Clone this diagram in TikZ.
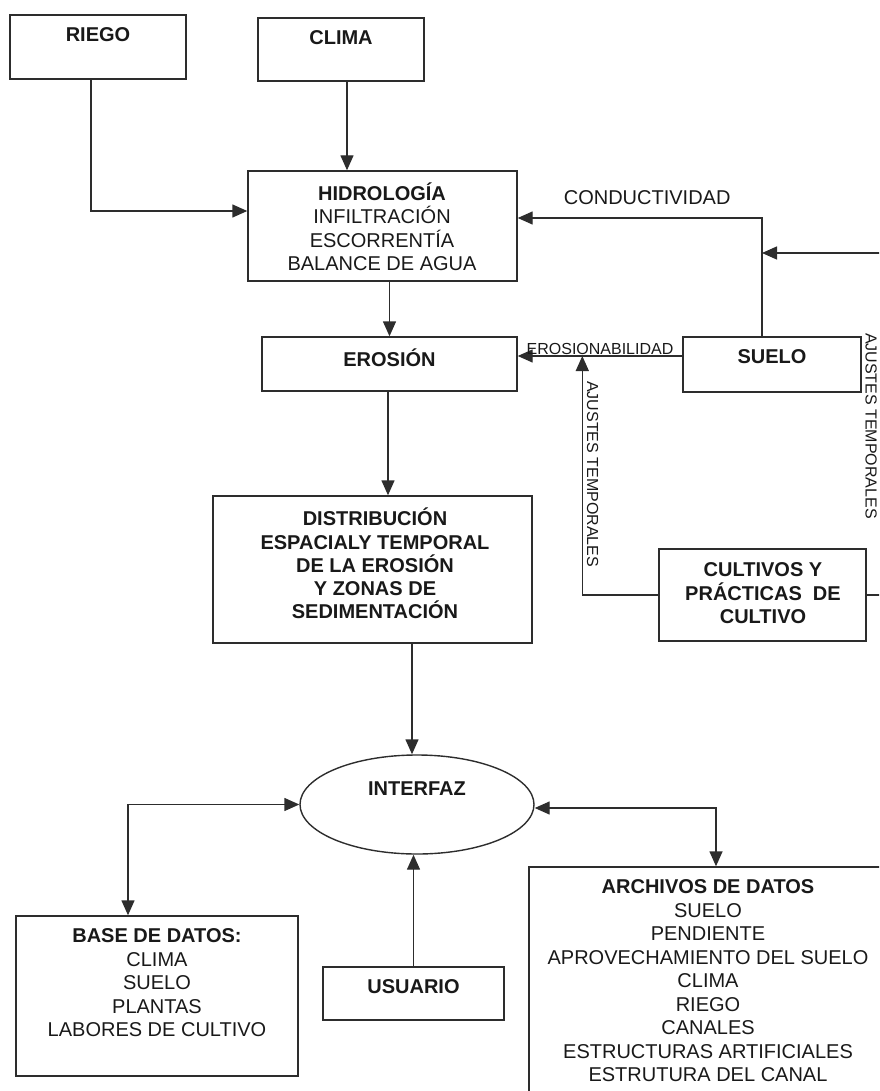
\documentclass[tikz,border=0pt]{standalone}
\usepackage{fontspec}
\setmainfont{Liberation Sans}
\usepackage{xcolor}
\definecolor{lineagris}{RGB}{45, 45, 45}
\definecolor{textogris}{RGB}{25, 25, 25}
\usetikzlibrary{arrows.meta, shapes.geometric, positioning}

\begin{document}
\begin{tikzpicture}[x=1pt, y=-1pt, >={Triangle[length=15pt, width=13pt]}]

% === Estilos ===
\tikzset{
    caja/.style 2 args={draw=lineagris, line width=1.4pt, minimum width=#1,
        minimum height=#2, inner sep=0pt},
    texto/.style={font=\fontsize{20}{23.5}\selectfont, align=center,
        inner sep=0pt, text=textogris},
    titulo/.style={texto, font=\bfseries\fontsize{20}{23.5}\selectfont},
    rotulo/.style={font=\fontsize{16}{18}\selectfont, inner sep=0pt, text=textogris},
    flecha/.style={draw=lineagris, line width=1.4pt, ->}
}

% === Marco ===
\useasboundingbox (0,0) rectangle (879,1091);
\clip (0,0) rectangle (879,1091);

% === Cajas ===
\node[caja={176pt}{64pt}]  (riego)     at (98,47)      {};
\node[caja={166pt}{63pt}]  (clima)     at (341,49.5)   {};
\node[caja={269pt}{110pt}] (hidro)     at (382.5,226)  {};
\node[caja={255pt}{54pt}]  (erosion)   at (389.5,364)  {};
\node[caja={178pt}{55pt}]  (suelo)     at (772,364.5)  {};
\node[caja={319pt}{147pt}] (distrib)   at (372.5,569.5) {};
\node[caja={207pt}{92pt}]  (cultivos)  at (762.5,595)  {};
\node[draw=lineagris, line width=1.4pt, ellipse, minimum width=234pt,
      minimum height=99pt, inner sep=0pt] (interfaz) at (417,804.5) {};
\node[caja={282pt}{160pt}] (basedatos) at (157,996)    {};
\node[caja={181pt}{53pt}]  (usuario)   at (413.5,993.5) {};
\node[caja={366pt}{243pt}] (archivos)  at (712,988.5)  {};

% === Textos ===
\node[titulo] (riegoT)   at ([yshift=12pt]riego.center)    {RIEGO};
\node[titulo] (climaT)   at ([yshift=11.5pt]clima.center)  {CLIMA};
\node[texto]  (hidroT)   at (382,226.5)
    {\textbf{HIDROLOGÍA}\\INFILTRACIÓN\\ESCORRENTÍA\\BALANCE DE AGUA};
\node[titulo] (erosionT) at ([yshift=6pt]erosion.center)   {EROSIÓN};
\node[titulo] (sueloT)   at ([yshift=7.5pt]suelo.center)   {SUELO};
\node[titulo, font=\bfseries\fontsize{20}{23.25}\selectfont] (distribT) at (375,563.5)
    {DISTRIBUCIÓN\\ESPACIALY TEMPORAL\\DE LA EROSIÓN\\Y ZONAS DE\\SEDIMENTACIÓN};
\node[titulo] (cultivosT) at (763,593.5)
    {CULTIVOS Y\\PRÁCTICAS\ \ DE\\CULTIVO};
\node[titulo] (interfazT) at ([yshift=15.5pt]interfaz.center) {INTERFAZ};
\node[texto]  (baseT)    at (157,983)
    {\textbf{BASE DE DATOS:}\\CLIMA\\SUELO\\PLANTAS\\LABORES DE CULTIVO};
\node[titulo] (usuarioT) at ([yshift=6.5pt]usuario.center) {USUARIO};
\node[texto]  (archivosT) at (708,981)
    {\textbf{ARCHIVOS DE DATOS}\\SUELO\\PENDIENTE\\APROVECHAMIENTO DEL SUELO\\CLIMA\\RIEGO\\CANALES\\ESTRUCTURAS ARTIFICIALES\\ESTRUTURA DEL CANAL};

% === Puntos auxiliares ===
\coordinate (climaS)  at ([xshift=6pt]clima.south);
\coordinate (eroS)    at ([xshift=-1.5pt]erosion.south);
\coordinate (intN)    at ([xshift=-5pt]interfaz.north);
\coordinate (sueloN)  at ([xshift=-10pt]suelo.north);
\coordinate (sueloW)  at ([yshift=8.5pt]suelo.west);
\coordinate (ajusteX) at ([xshift=-76pt]cultivos.west);
\coordinate (retornoA) at (895,595);   % fuera del borde derecho
\coordinate (retornoB) at (895,253);
\coordinate (baseN)   at ([xshift=-29pt]basedatos.north);
\coordinate (archN)   at ([xshift=4pt]archivos.north);

% === Flechas superiores ===
\draw[flecha] ([xshift=-7pt]riego.south) |- ([yshift=15pt]hidro.west);
\draw[flecha] (climaS) -- (climaS |- hidro.north);
\draw[flecha] (erosion.north |- hidro.south) -- (erosion.north);
\draw[flecha] (eroS) -- (eroS |- distrib.north);
\draw[flecha] (intN |- distrib.south) -- (intN);

% Conductividad (suelo -> hidrología)
\draw[flecha] (sueloN) |- ([yshift=8pt]hidro.east)
    node[texto, pos=0.735, above=13pt] (conduct) {CONDUCTIVIDAD};

% Retorno por el borde derecho (cultivos -> suelo)
\draw[flecha] (cultivos.east) -- (retornoA) -- (retornoB) -- (retornoB -| sueloN);
\node[rotulo, rotate=-90] (ajusteD) at (871,426) {AJUSTES TEMPORALES};

% Erosionabilidad (suelo -> erosión)
\draw[flecha] (sueloW) -- (sueloW -| erosion.east)
    node[rotulo, midway, above=1pt] (erosiona) {EROSIONABILIDAD};

% Ajustes temporales (cultivos -> erosionabilidad)
\draw[flecha] (cultivos.west) -| (ajusteX |- sueloW)
    node[rotulo, pos=0.753, rotate=-90, anchor=south, inner ysep=4pt] (ajusteI)
    {AJUSTES TEMPORALES};

% === Flechas inferiores ===
\draw[flecha, <->] (interfaz.west) -| (baseN);
\draw[flecha, <->] ([yshift=-3.5pt]interfaz.east) -| (archN);
\draw[flecha] (usuario.north) -- (usuario.north |- interfaz.south);

\end{tikzpicture}
\end{document}
